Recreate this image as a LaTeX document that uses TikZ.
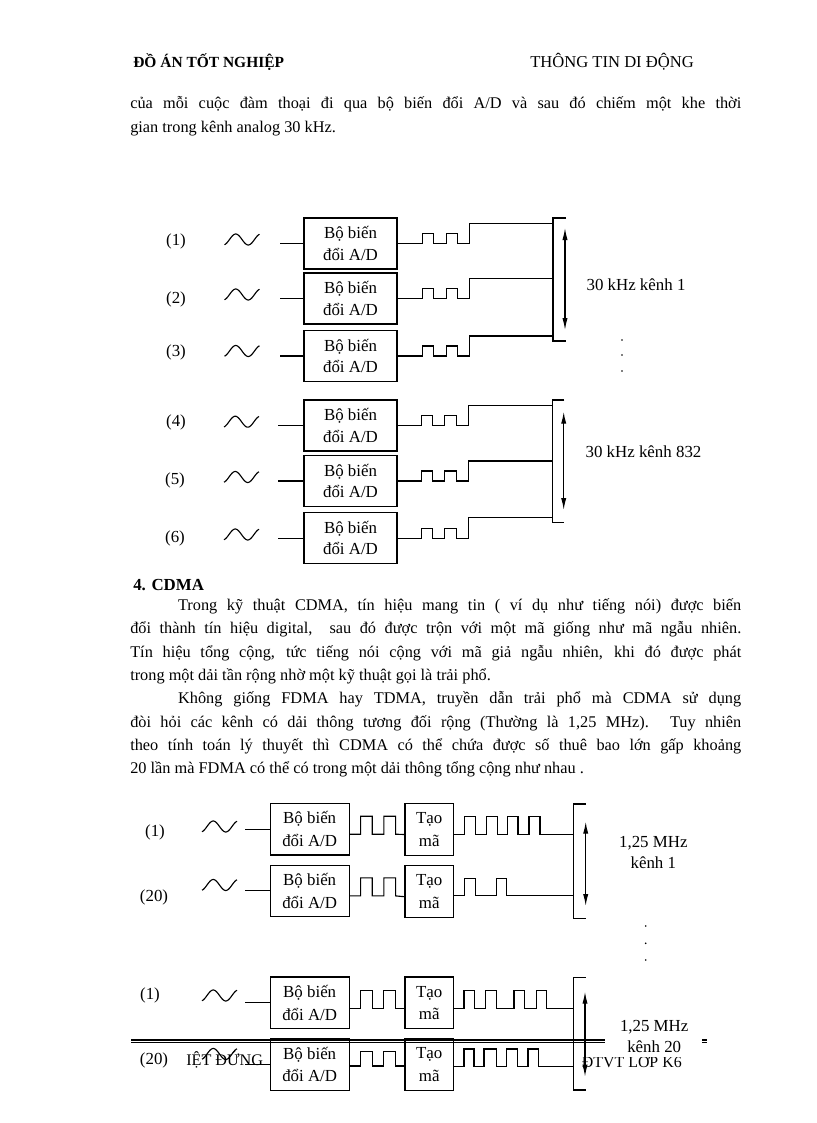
\documentclass[tikz,border=0pt]{standalone}
\usepackage{fontspec}
\setmainfont{Liberation Serif}
\usetikzlibrary{positioning,calc,arrows.meta}

\tikzset{
  wire/.style={line width=0.8pt},
  adbox/.style={draw, line width=0.8pt, rectangle, minimum width=23.25mm, minimum height=12.75mm, inner sep=0pt, align=center, font=\fontsize{12}{15}\selectfont},
  cdmabox/.style={adbox, minimum width=19.8mm, minimum height=12.9mm, font=\fontsize{12}{16}\selectfont},
  codebox/.style={cdmabox, minimum width=12.1mm},
  chan/.style={inner sep=0pt, font=\fontsize{12}{15}\selectfont},
  body/.style={anchor=base west, inner sep=0pt, text width=152.75mm, align=justify},
  pulseup/.style 2 args={insert path={-- ++(0,-#1) -- ++(#2,0) -- ++(0,#1)}},
  bwarrow/.style={wire, {Latex[length=3mm,width=1.3mm]}-{Latex[length=3mm,width=1.3mm]}},
  sine/.pic={\draw[wire] plot[domain=-0.2:1.2, samples=40, smooth] ({(\x+0.2)*25-17.5}, {-5.5*sin(360*\x)});},
}

\begin{document}
\begin{tikzpicture}[x=0.25mm,y=-0.25mm]
  % Trang
  \useasboundingbox (0,0) rectangle (816,1123);
  % Tieu de trang
  \node[anchor=base west, inner sep=0pt, font=\fontsize{11}{13}\selectfont\bfseries] (hdl) at (133,67) {ĐỒ ÁN TỐT NGHIỆP};
  \node[anchor=base west, inner sep=0pt, font=\fontsize{11.8}{13}\selectfont] (hdr) at (530,67) {THÔNG TIN DI ĐỘNG};
  % Doan van dau
  \node[body, font=\fontsize{11.6}{17.1}\selectfont\sloppy] (p0) at (130,108.5) {của mỗi cuộc đàm thoại đi qua bộ biến đổi A/D và sau đó chiếm một khe thời\linebreak gian trong kênh analog 30 kHz.};

  % Thanh gop - nhom kenh 1
  \coordinate (busA) at (553,218);
  \coordinate (busAb) at (553,341);
  \draw[wire] ($(busA)+(13,0)$) -- (busA) -- (busAb) -- ++(13,0);
  \draw[bwarrow] ($(busA)+(12,10)$) -- ($(busAb)+(12,-11)$);
  \node[chan] (bwA) at (636,285) {30 kHz kênh 1};
  % Kenh (1)
  \node[chan] (n1) at (176,241.7) {(1)};
  \pic at (242,239.5) {sine};
  \node[adbox] (ad1) at (350.5,243.5) {Bộ biến\\đổi A/D};
  \draw[wire] (ad1.west) -- ++(-23,0);
  \draw[wire] (ad1.east) -- ++(24.7,0) [pulseup={10}{11.6}] -- ++(12.4,0) [pulseup={10}{11.6}] -- ++(12,0) -- ++(0,-20) -| (busA);
  % Kenh (2)
  \node[chan] (n2) at (176,299.3) {(2)};
  \pic at (242,294.5) {sine};
  \node[adbox] (ad2) at (350.5,298.5) {Bộ biến\\đổi A/D};
  \draw[wire] (ad2.west) -- ++(-23,0);
  \draw[wire] (ad2.east) -- ++(24.7,0) [pulseup={10}{11.6}] -- ++(12.4,0) [pulseup={10}{11.6}] -- ++(12,0) -- ++(0,-20) -| (busA);
  % Kenh (3)
  \node[chan] (n3) at (176,352.7) {(3)};
  \pic at (242,351) {sine};
  \node[adbox] (ad3) at (350.5,356) {Bộ biến\\đổi A/D};
  \draw[wire] (ad3.west) -- ++(-23,0);
  \draw[wire] (ad3.east) -- ++(24.7,0) [pulseup={10}{11.6}] -- ++(12.4,0) [pulseup={10}{11.6}] -- ++(12,0) -- ++(0,-20) -| (busA);
  % Dau cham
  \fill (622,340) circle (0.9) (622,355) circle (0.9) (622,371) circle (0.9);

  % Thanh gop - nhom kenh 832
  \coordinate (busB) at (552.3,400);
  \coordinate (busBb) at (552.3,522.3);
  \draw[wire] ($(busB)+(12,0)$) -- (busB) -- (busBb) -- ++(12,0);
  \draw[bwarrow] ($(busB)+(11.4,11.7)$) -- ($(busBb)+(11.4,-12.3)$);
  \node[chan] (bwB) at (643.5,451.7) {30 kHz kênh 832};
  % Kenh (4)
  \node[chan] (n4) at (176,422.3) {(4)};
  \pic at (241.5,421.7) {sine};
  \node[adbox] (ad4) at (350.5,425.5) {Bộ biến\\đổi A/D};
  \draw[wire] (ad4.west) -- ++(-25,0);
  \draw[wire] (ad4.east) -- ++(23.7,0) [pulseup={10}{11.6}] -- ++(12,0) [pulseup={10}{11.7}] -- ++(12.3,0) -- ++(0,-20) -| (busB);
  % Kenh (5)
  \node[chan] (n5) at (175,480) {(5)};
  \pic at (241.5,477) {sine};
  \node[adbox] (ad5) at (350.5,481) {Bộ biến\\đổi A/D};
  \draw[wire] (ad5.west) -- ++(-25,0);
  \draw[wire] (ad5.east) -- ++(23.7,0) [pulseup={10}{11.6}] -- ++(12,0) [pulseup={10}{11.7}] -- ++(12.3,0) -- ++(0,-20) -| (busB);
  % Kenh (6)
  \node[chan] (n6) at (175,538) {(6)};
  \pic at (241.5,534.5) {sine};
  \node[adbox] (ad6) at (350.5,538.3) {Bộ biến\\đổi A/D};
  \draw[wire] (ad6.west) -- ++(-25,0);
  \draw[wire] (ad6.east) -- ++(23.7,0) [pulseup={10}{11.6}] -- ++(12,0) [pulseup={10}{11.7}] -- ++(12.3,0) -- ++(0,-21) -| (busB);

  % Muc 4
  \node[anchor=base west, inner sep=0pt, font=\fontsize{12}{14}\selectfont\bfseries] (sec) at (133,590.5) {4. CDMA};
  \node[body, font=\fontsize{11.6}{16.6}\selectfont\sloppy] (p1) at (130,610.5) {\hspace*{34pt}Trong kỹ thuật CDMA, tín hiệu mang tin ( ví dụ như tiếng nói) được biến\linebreak đổi thành tín hiệu digital,\ \ sau đó được trộn với một mã giống như mã ngẫu nhiên.\linebreak Tín hiệu tổng cộng, tức tiếng nói cộng với mã giả ngẫu nhiên, khi đó được phát\linebreak trong một dải tần rộng nhờ một kỹ thuật gọi là trải phổ.\par
  \hspace*{34pt}Không giống FDMA hay TDMA, truyền dẫn trải phổ mà CDMA sử dụng\linebreak đòi hỏi các kênh có dải thông tương đối rộng (Thường là 1,25 MHz). Tuy nhiên\linebreak theo tính toán lý thuyết thì CDMA có thể chứa được số thuê bao lớn gấp khoảng\linebreak 20 lần mà FDMA có thể có trong một dải thông tổng cộng như nhau .};

  % Thanh gop - 1,25 MHz kenh 1
  \coordinate (busC) at (573.3,804);
  \coordinate (busCb) at (573.3,918.3);
  \draw[wire] ($(busC)+(12.4,0)$) -- (busC) -- (busCb) -- ++(12.4,0);
  \draw[bwarrow] ($(busC)+(12.4,17.7)$) -- ($(busCb)+(12.4,-12.3)$);
  \node[chan, align=center, font=\fontsize{12}{15}\selectfont] (bwC) at (653.3,852.2) {1,25 MHz\\kênh 1};
  % Kenh (1)
  \node[chan] (m1) at (155,832) {(1)};
  \pic at (219.5,826.5) {sine};
  \node[cdmabox] (adC1) at (309.7,829.2) {Bộ biến\\đổi A/D};
  \node[codebox] (cdC1) at (429.2,829.5) {Tạo\\mã};
  \draw[wire] (adC1.west) -- ++(-25,0);
  \draw[wire] ($(adC1.east)+(0,5)$) -- ++(10.7,0) [pulseup={18}{11.7}] -- ++(11.6,0) [pulseup={18}{11.7}] -- ($(cdC1.west)+(0,5)$);
  \draw[wire] ($(cdC1.east)+(0,5)$) -- ++(10.7,0) [pulseup={17.6}{11}] -- ++(10.7,0) [pulseup={17.6}{11}] -- ++(10,0) [pulseup={17.6}{10.6}] -- ++(11,0) [pulseup={17.6}{11}] -| (busCb);
  % Kenh (20)
  \node[chan] (m2) at (154,897) {(20)};
  \pic at (219.5,885) {sine};
  \node[cdmabox] (adC2) at (309.7,890.9) {Bộ biến\\đổi A/D};
  \node[codebox] (cdC2) at (429.2,891.7) {Tạo\\mã};
  \draw[wire] (adC2.west) -- ++(-25,0);
  \draw[wire] ($(adC2.east)+(0,5)$) -- ++(10.7,0) [pulseup={18}{11.7}] -- ++(11.6,0) [pulseup={18}{11.7}] -- ($(cdC2.west)+(0,5)$);
  \draw[wire] ($(cdC2.east)+(0,4)$) -- ++(10.7,0) [pulseup={17.4}{11}] -- ++(20.7,0) [pulseup={17.4}{10.3}] -| (busCb);
  % Dau cham
  \fill (645.7,926) circle (0.9) (645.7,943.3) circle (0.9) (645.7,960) circle (0.9);

  % Thanh gop - 1,25 MHz kenh 20
  \coordinate (busD) at (573.3,977.3);
  \coordinate (busDb) at (573.3,1090);
  \draw[wire] ($(busD)+(12.4,0)$) -- (busD) -- (busDb) -- ++(12.4,0);
  \draw[bwarrow] ($(busD)+(11.7,14.4)$) -- ($(busDb)+(11.7,-13.3)$);
  \node[chan, align=center, font=\fontsize{12}{15}\selectfont] (bwD) at (654.2,1036.5) {1,25 MHz\\kênh 20};
  % Kenh (1)
  \node[chan] (m3) at (150,995) {(1)};
  \pic at (219.5,995.5) {sine};
  \node[cdmabox] (adD1) at (309.7,1002.8) {Bộ biến\\đổi A/D};
  \node[codebox] (cdD1) at (429.2,1002.8) {Tạo\\mã};
  \draw[wire] (adD1.west) -- ++(-25,0);
  \draw[wire] ($(adD1.east)+(0,6)$) -- ++(10.7,0) [pulseup={18}{11.7}] -- ++(11.6,0) [pulseup={18}{11.7}] -- ($(cdD1.west)+(0,6)$);
  \draw[wire] ($(cdD1.east)+(0,5.5)$) -- ++(10,0) [pulseup={17.6}{10.7}] -- ++(11,0) [pulseup={17.6}{10.7}] -- ++(17.6,0) [pulseup={17.6}{10.7}] -- ++(11.7,0) [pulseup={17.6}{10.3}] -| (busDb);
  % Kenh (20)
  \node[chan] (m4) at (154,1060) {(20)};
  \pic at (219.5,1054) {sine};
  \node[cdmabox] (adD2) at (309.7,1064.5) {Bộ biến\\đổi A/D};
  \node[codebox] (cdD2) at (429.2,1064.5) {Tạo\\mã};
  \draw[wire] (adD2.west) -- ++(-25,0);
  \draw[wire] ($(adD2.east)+(0,1.5)$) -- ++(10.7,0) [pulseup={14.3}{11.7}] -- ++(11.6,0) [pulseup={14.3}{11.7}] -- ($(cdD2.west)+(0,1.5)$);
  \draw[wire] ($(cdD2.east)+(0,2.2)$) -- ++(10,0) [pulseup={17.7}{10}] -- ++(10,0) [pulseup={17.7}{12.4}] -- ++(10,0) [pulseup={17.7}{11}] -- ++(10.6,0) [pulseup={17.7}{10.4}] -| (busDb);

  % Chan trang
  \draw[line width=1.6pt] (131,1040.2) -- (605,1040.2);
  \draw[line width=0.5pt] (131,1042.8) -- (605,1042.8);
  \draw[line width=1.6pt] (702,1040.2) -- (707,1040.2);
  \draw[line width=0.5pt] (702,1042.8) -- (707,1042.8);
  \node[anchor=base west, inner sep=0pt, font=\fontsize{11.5}{13}\selectfont] (ftl) at (186,1065.5) {IỆT ĐỨNG};
  \begin{scope}
    \clip (560,1057.5) rectangle (700,1075);
    \node[anchor=base west, inner sep=0pt, font=\fontsize{11.3}{13}\selectfont] (ftr) at (581.7,1067) {ĐTVT LỚP K6};
  \end{scope}
\end{tikzpicture}
\end{document}
